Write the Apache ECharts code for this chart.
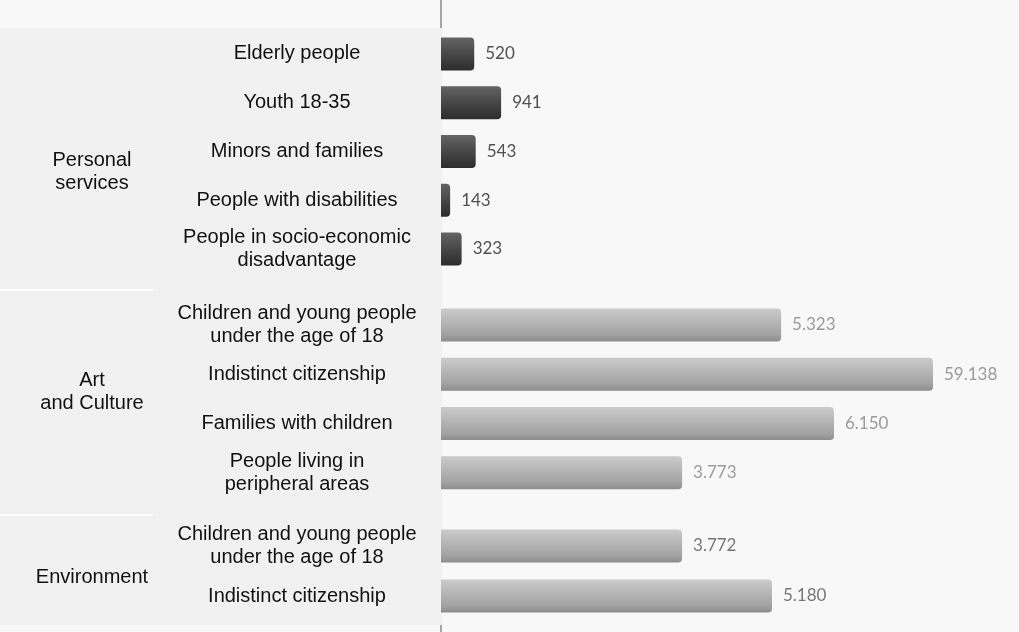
<!DOCTYPE html>
<html>
<head>
<meta charset="utf-8">
<script src="https://cdn.jsdelivr.net/npm/echarts@6/dist/echarts.min.js"></script>
<style>html,body{margin:0;padding:0;background:#f8f8f8;}#c{width:1019px;height:632px;}</style>
</head>
<body>
<div id="c"></div>
<script>
// ---- data ----
var groups = ['Personal\nservices', 'Art\nand Culture', 'Environment'];
var cats1 = ['Elderly people', 'Youth 18-35', 'Minors and families', 'People with disabilities', 'People in socio-economic\ndisadvantage'];
var vals1 = [520, 941, 543, 143, 323];
var cats2 = ['Children and young people\nunder the age of 18', 'Indistinct citizenship', 'Families with children', 'People living in\nperipheral areas'];
var vals2 = [5323, 59138, 6150, 3773];
var cats3 = ['Children and young people\nunder the age of 18', 'Indistinct citizenship'];
var vals3 = [3772, 5180];

function fmt(v){ return String(v).replace(/\B(?=(\d{3})+(?!\d))/g, '.'); }

var chart = echarts.init(document.getElementById('c'), null, {renderer: 'canvas'});

var gridDefs = [
  {top: 29.6, height: 243.75},
  {top: 300.3, height: 197.2},
  {top: 521, height: 100}
];
var groupLabelY = [172, 392, 577];
var catsAll = [cats1, cats2, cats3];
var valsAll = [vals1, vals2, vals3];
var labelColors = ['#505050', '#9a9a9a', '#767676'];
var darkGrad = new echarts.graphic.LinearGradient(0,0,0,1,[
  {offset:0,color:'#646464'},{offset:0.5,color:'#474747'},{offset:1,color:'#2c2c2c'}]);
var lightGrad = new echarts.graphic.LinearGradient(0,0,0,1,[
  {offset:0,color:'#cbcbcb'},{offset:0.8,color:'#a2a2a2'},{offset:1,color:'#8c8c8c'}]);
var colors = [darkGrad, lightGrad, lightGrad];
var textFont = 'Liberation Sans, Arial';

var grids = [], xAxes = [], yAxes = [], series = [];
var graphics = [
  {type: 'rect', shape: {x: 0, y: 28, width: 442, height: 597}, style: {fill: '#f1f1f1'}, z: 0},
  {type: 'line', shape: {x1: 441, y1: 0, x2: 441, y2: 28}, style: {stroke: '#8a8a8a', lineWidth: 1.5}, z: 0},
  {type: 'line', shape: {x1: 441, y1: 625, x2: 441, y2: 632}, style: {stroke: '#8a8a8a', lineWidth: 1.5}, z: 0},
  {type: 'line', shape: {x1: 0, y1: 290, x2: 153, y2: 290}, style: {stroke: '#ffffff', lineWidth: 2}, z: 0},
  {type: 'line', shape: {x1: 0, y1: 515, x2: 153, y2: 515}, style: {stroke: '#ffffff', lineWidth: 2}, z: 0}
];
for (var i = 0; i < 3; i++) {
  grids.push({left: 441, right: 86, top: gridDefs[i].top, height: gridDefs[i].height,
    containLabel: false, outerBoundsMode: 'none'});
  xAxes.push({type: 'value', gridIndex: i, min: 0, max: 7700, show: false});
  yAxes.push({
    type: 'category', gridIndex: i, data: catsAll[i], inverse: true, position: 'left',
    axisLine: {show: false}, axisTick: {show: false}, splitLine: {show: false},
    axisLabel: {interval: 0, hideOverlap: false, align: 'center', margin: 144, color: '#111',
      fontFamily: textFont, fontSize: 20, lineHeight: 23}
  });
  series.push({
    type: 'bar', xAxisIndex: i, yAxisIndex: i, data: valsAll[i], barWidth: 33, clip: true,
    itemStyle: {color: colors[i], borderRadius: [0, 4, 4, 0]},
    label: {show: true, position: 'right', distance: 11, color: labelColors[i], fontFamily: 'Lato', fontSize: 17,
      formatter: function(p){ return fmt(p.value); }},
    animation: false
  });
  graphics.push({type: 'text', x: 92, y: groupLabelY[i], z: 5,
    style: {text: groups[i], fill: '#111', font: '20px ' + textFont, lineHeight: 23,
      align: 'center', verticalAlign: 'middle'}});
}

chart.setOption({
  backgroundColor: '#f8f8f8',
  animation: false,
  graphic: graphics,
  grid: grids, xAxis: xAxes, yAxis: yAxes, series: series
});
</script>
</body>
</html>
